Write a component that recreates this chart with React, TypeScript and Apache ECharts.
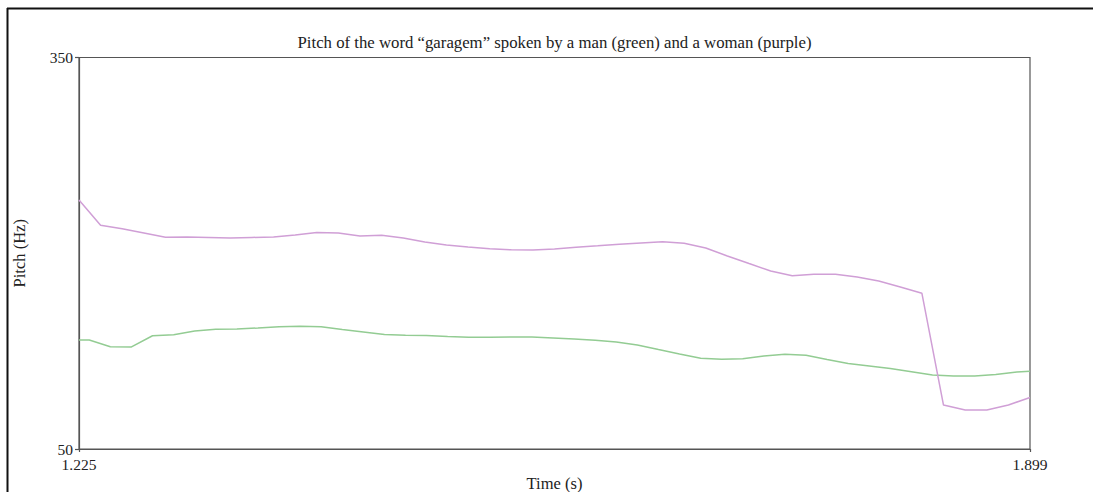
import React, { useEffect, useRef } from "react";
import * as echarts from "echarts";

// Woman's pitch track (purple)
const womanTimes = [
  1.225, 1.2403, 1.2556, 1.271, 1.2863, 1.3016, 1.3169, 1.3322, 1.3476, 1.3629,
  1.3782, 1.3935, 1.4088, 1.4241, 1.4395, 1.4548, 1.4701, 1.4854, 1.5007, 1.5161,
  1.5314, 1.5467, 1.562, 1.5773, 1.5926, 1.608, 1.6233, 1.6386, 1.6539, 1.6692,
  1.6845, 1.6999, 1.7152, 1.7305, 1.7458, 1.7611, 1.7765, 1.7918, 1.8071, 1.8224,
  1.8377, 1.8531, 1.8684, 1.8837, 1.899,
];
const womanPitch = [
  240.8, 221.4, 218.8, 215.5, 212.2, 212.5, 212.1, 211.7, 212.1, 212.5,
  214.0, 215.9, 215.5, 213.2, 213.8, 211.7, 208.6, 206.3, 204.8, 203.4,
  202.6, 202.5, 203.3, 204.6, 205.7, 206.9, 207.9, 208.8, 207.6, 204.0,
  197.9, 192.1, 186.4, 182.8, 183.9, 183.9, 181.8, 178.7, 174.1, 169.3,
  83.7, 79.9, 79.9, 83.7, 89.5,
];

// Man's pitch track (green)
const manTimes = [
  1.225, 1.2323, 1.2472, 1.2622, 1.2771, 1.2921, 1.307, 1.3219, 1.3369, 1.3518,
  1.3668, 1.3817, 1.3966, 1.4116, 1.4265, 1.4415, 1.4564, 1.4713, 1.4863, 1.5012,
  1.5162, 1.5311, 1.546, 1.561, 1.5759, 1.5909, 1.6058, 1.6207, 1.6357, 1.6506,
  1.6656, 1.6805, 1.6954, 1.7104, 1.7253, 1.7403, 1.7552, 1.7701, 1.7851, 1.8,
  1.815, 1.8299, 1.8448, 1.8598, 1.8747, 1.8897, 1.899,
];
const manPitch = [
  133.5, 133.5, 128.4, 128.2, 136.8, 137.6, 140.4, 141.7, 142.0, 142.7,
  143.6, 144.0, 143.7, 141.6, 139.7, 137.7, 137.2, 137.0, 136.2, 135.6,
  135.6, 135.8, 135.8, 135.1, 134.3, 133.3, 132.0, 129.7, 126.2, 122.8,
  119.5, 118.7, 119.2, 121.3, 122.6, 121.8, 118.6, 115.5, 113.6, 111.7,
  109.2, 106.7, 105.9, 105.9, 107.1, 109.0, 109.5,
];

const timeTicks = [1.225, 1.899];
const pitchTicks = [50, 350];

const titleText =
  "Pitch of the word \u201Cgaragem\u201D spoken by a man (green) and a woman (purple)";

const serif = "'Liberation Serif', 'Times New Roman', serif";
const axisColor = "#555";
const textColor = "#222";

export default function App() {
  const ref = useRef<HTMLDivElement>(null);

  useEffect(() => {
    if (!ref.current) return;
    const chart = echarts.init(ref.current, undefined, { renderer: "svg" });
    const zip = (xs: number[], ys: number[]) => xs.map((x, i) => [x, ys[i]]);

    chart.setOption({
      animation: false,
      backgroundColor: "#fff",
      title: {
        text: titleText,
        left: 554.5,
        top: 33.5,
        padding: 0,
        textAlign: "center",
        textStyle: {
          fontFamily: serif,
          fontSize: 16.75,
          fontWeight: "normal",
          color: textColor,
        },
      },
      grid: {
        left: 79,
        right: 63,
        top: 57.5,
        bottom: 43,
        outerBoundsMode: "none",
        containLabel: false,
        show: true,
        borderColor: axisColor,
        borderWidth: 1.2,
        backgroundColor: "transparent",
      },
      xAxis: {
        type: "value",
        min: 1.225,
        max: 1.899,
        name: "Time (s)",
        nameLocation: "middle",
        nameGap: 26,
        nameMoveOverlap: false,
        nameTextStyle: {
          fontFamily: serif,
          fontSize: 16.5,
          lineHeight: 16,
          color: textColor,
        },
        axisLine: { show: true, lineStyle: { color: axisColor, width: 1.2 } },
        axisTick: {
          show: true,
          length: 3,
          customValues: timeTicks,
          lineStyle: { color: axisColor, width: 1.2 },
        },
        axisLabel: {
          customValues: timeTicks,
          formatter: (v: number) => v.toFixed(3),
          fontFamily: serif,
          fontSize: 15.5,
          lineHeight: 15,
          color: textColor,
          margin: 8,
        },
        splitLine: { show: false },
      },
      yAxis: {
        type: "value",
        min: 50,
        max: 350,
        name: "Pitch (Hz)",
        nameLocation: "middle",
        nameRotate: 90,
        nameGap: 51,
        nameMoveOverlap: false,
        nameTextStyle: { fontFamily: serif, fontSize: 16.5, color: textColor },
        axisLine: { show: true, lineStyle: { color: axisColor, width: 1.2 } },
        axisTick: {
          show: true,
          length: 4,
          customValues: pitchTicks,
          lineStyle: { color: axisColor, width: 1.2 },
        },
        axisLabel: {
          customValues: pitchTicks,
          fontFamily: serif,
          fontSize: 15.5,
          lineHeight: 12,
          color: textColor,
          margin: 6,
        },
        splitLine: { show: false },
      },
      graphic: [
        {
          type: "line",
          shape: { x1: 7.5, y1: 8, x2: 7.5, y2: 492 },
          style: { stroke: "#111", lineWidth: 2 },
        },
        {
          type: "line",
          shape: { x1: 7, y1: 8.5, x2: 1093, y2: 8.5 },
          style: { stroke: "#111", lineWidth: 2 },
        },
      ],
      series: [
        {
          name: "man",
          type: "line",
          data: zip(manTimes, manPitch),
          showSymbol: false,
          lineStyle: { color: "#93cc93", width: 1.5 },
          z: 3,
        },
        {
          name: "woman",
          type: "line",
          data: zip(womanTimes, womanPitch),
          showSymbol: false,
          lineStyle: { color: "#d09fd6", width: 1.5 },
          z: 3,
        },
      ],
    });

    return () => chart.dispose();
  }, []);

  return (
    <div
      ref={ref}
      style={{ position: "fixed", left: 0, top: 0, width: 1093, height: 492 }}
    />
  );
}
